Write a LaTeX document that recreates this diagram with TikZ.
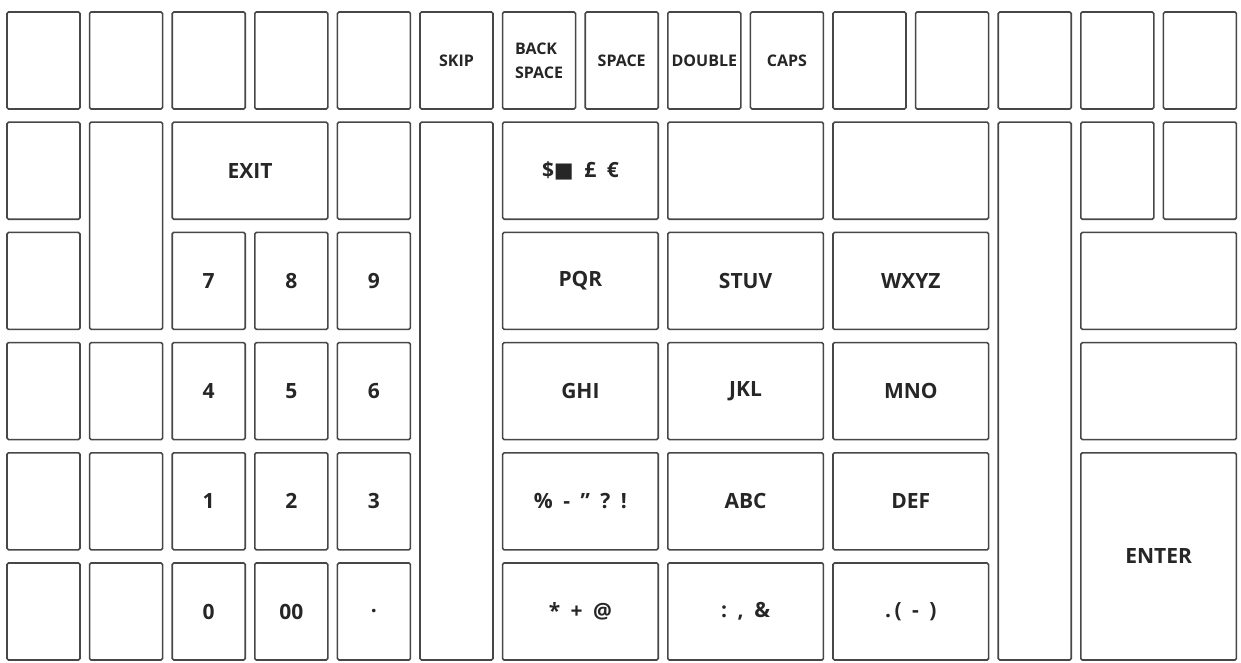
\documentclass[tikz,border=0pt]{standalone}
\usepackage{fontspec}
\setmainfont{Open Sans}
\newfontfamily\symbolfont{DejaVu Sans}
\newcommand{\toplabel}{\fontsize{16}{21}\selectfont}

% one key: name, column, row, column span, row span, label
\newcommand{\kbkey}[6]{%
  \node[keycap, minimum width={73pt+(#4-1)*82.6pt},
    minimum height={97pt+(#5-1)*110.2pt}] (#1)
    at ({7+(#2-1)*82.6+(73+(#4-1)*82.6)/2},
        {12+(#3-1)*110.2+(97+(#5-1)*110.2)/2}) {#6};}

\begin{document}
\begin{tikzpicture}[
  x=1pt, y=-1pt,
  keycap/.style={draw=black!72, line width=1.6pt, rounded corners=1.5pt,
      fill=white, inner sep=0pt, align=left, text=black!85,
      font=\bfseries\fontsize{21}{24}\selectfont}
]
\fill[white] (0,0) rectangle (1241,663);
\useasboundingbox (0,0) rectangle (1241,663);
% blank single keys
\foreach \c in {1,2,3,4,5,11,12,13,14,15}
  \kbkey{top-\c}{\c}{1}{1}{1}{};
\foreach \c in {1,5,14,15}
  \kbkey{blank-2-\c}{\c}{2}{1}{1}{};
\foreach \r in {3,4,5,6}
  \kbkey{left-\r-1}{1}{\r}{1}{1}{};
\foreach \r in {4,5,6}
  \kbkey{left-\r-2}{2}{\r}{1}{1}{};
% tall and wide blank keys
\kbkey{tall-2}{2}{2}{1}{2}{}
\kbkey{tall-6}{6}{2}{1}{5}{}
\kbkey{tall-13}{13}{2}{1}{5}{}
\kbkey{wide-2-9}{9}{2}{2}{1}{}
\kbkey{wide-2-11}{11}{2}{2}{1}{}
\kbkey{wide-3-14}{14}{3}{2}{1}{}
\kbkey{wide-4-14}{14}{4}{2}{1}{}
% function keys
\kbkey{skip}{6}{1}{1}{1}{\toplabel SKIP}
\kbkey{backspace}{7}{1}{1}{1}{\toplabel BACK\\\toplabel SPACE}
\kbkey{space}{8}{1}{1}{1}{\toplabel SPACE}
\kbkey{double}{9}{1}{1}{1}{\toplabel DOUBLE}
\kbkey{caps}{10}{1}{1}{1}{\toplabel CAPS}
\kbkey{exit}{3}{2}{2}{1}{EXIT}
\kbkey{enter}{14}{5}{2}{2}{ENTER}
% number pad
\kbkey{n7}{3}{3}{1}{1}{7}
\kbkey{n8}{4}{3}{1}{1}{8}
\kbkey{n9}{5}{3}{1}{1}{9}
\kbkey{n4}{3}{4}{1}{1}{4}
\kbkey{n5}{4}{4}{1}{1}{5}
\kbkey{n6}{5}{4}{1}{1}{6}
\kbkey{n1}{3}{5}{1}{1}{1}
\kbkey{n2}{4}{5}{1}{1}{2}
\kbkey{n3}{5}{5}{1}{1}{3}
\kbkey{n0}{3}{6}{1}{1}{0}
\kbkey{n00}{4}{6}{1}{1}{00}
\kbkey{ndot}{5}{6}{1}{1}{.}
% letter keys
\kbkey{money}{7}{2}{2}{1}{\${\symbolfont ■}\enspace£\enspace€}
\kbkey{pqr}{7}{3}{2}{1}{PQR}
\kbkey{stuv}{9}{3}{2}{1}{STUV}
\kbkey{wxyz}{11}{3}{2}{1}{WXYZ}
\kbkey{ghi}{7}{4}{2}{1}{GHI}
\kbkey{jkl}{9}{4}{2}{1}{JKL}
\kbkey{mno}{11}{4}{2}{1}{MNO}
\kbkey{punct}{7}{5}{2}{1}{\%\enspace-\enspace"\enspace?\enspace!}
\kbkey{abc}{9}{5}{2}{1}{ABC}
\kbkey{def}{11}{5}{2}{1}{DEF}
\kbkey{symb}{7}{6}{2}{1}{*\enspace+\enspace@}
\kbkey{colon}{9}{6}{2}{1}{:\enspace,\enspace\&}
\kbkey{paren}{11}{6}{2}{1}{.\,(\enspace-\enspace)}
\end{tikzpicture}
\end{document}
